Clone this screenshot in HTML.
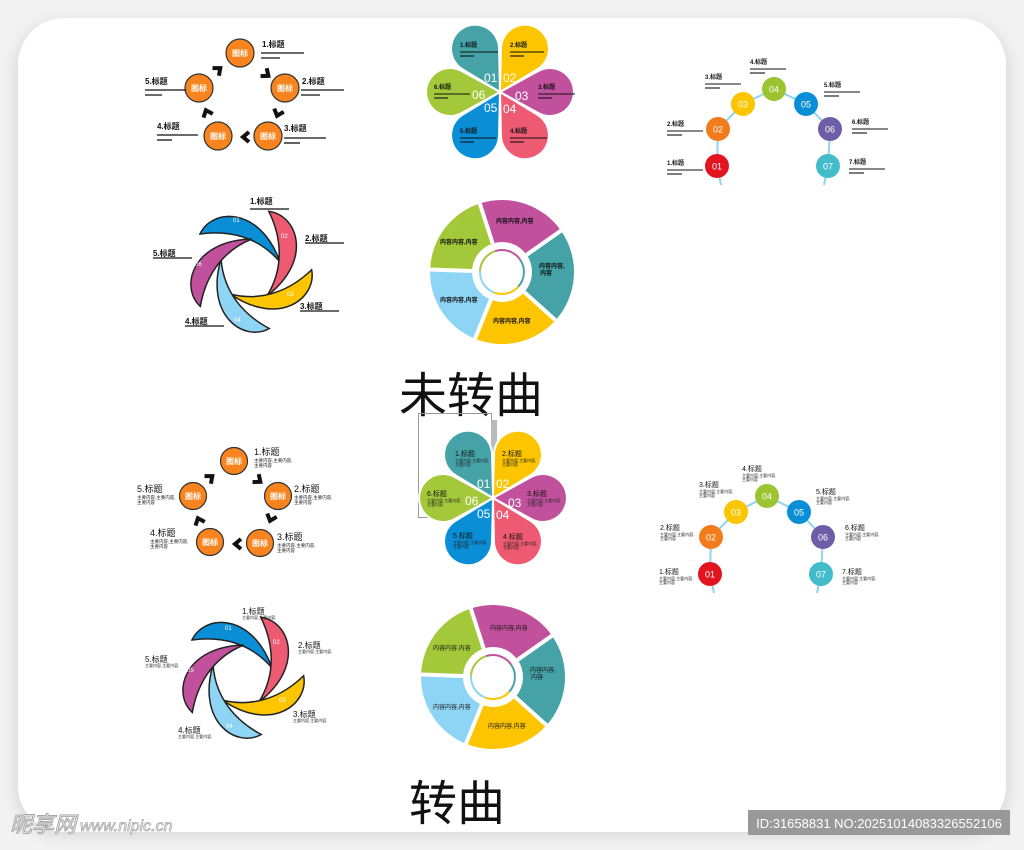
<!DOCTYPE html>
<html><head><meta charset="utf-8"><style>
html,body{margin:0;padding:0;background:#f2f2f2;width:1024px;height:850px;overflow:hidden}
svg{display:block}
text{font-family:"Liberation Sans","Noto Sans CJK SC",sans-serif}
</style></head><body>
<svg width="1024" height="850" viewBox="0 0 1024 850" xmlns="http://www.w3.org/2000/svg">
<defs>
<filter id="sh" x="-5%" y="-5%" width="110%" height="110%"><feGaussianBlur stdDeviation="6"/></filter>
<path id="petal" d="M0,0 L38.5,-21.1 A24,24 0 1 1 38.5,21.1 Z" stroke="#fff" stroke-width="2"/>
<path id="blade" d="M-50,-36 C-38,-62 10,-64 30,-8 C8,-34 -22,-40 -50,-36 Z" stroke="#222" stroke-width="1.5"/>
<path id="chev" d="M3,-5 L-3,0 L3,5" fill="none" stroke="#111" stroke-width="4"/>
<g id="pie">
<path d="M-22.2,-68.5 A72,72 0 0 1 59,-41.3 L24.6,-17.2 A30,30 0 0 0 -9.3,-28.5 Z" fill="#c2519d"/>
<path d="M59,-41.3 A72,72 0 0 1 53.5,48.2 L22.3,20.1 A30,30 0 0 0 24.6,-17.2 Z" fill="#45a3a8"/>
<path d="M53.5,48.2 A72,72 0 0 1 -27,66.8 L-11.2,27.8 A30,30 0 0 0 22.3,20.1 Z" fill="#fcc500"/>
<path d="M-27,66.8 A72,72 0 0 1 -71.9,-2.5 L-30,-1 A30,30 0 0 0 -11.2,27.8 Z" fill="#8ed4f5"/>
<path d="M-71.9,-2.5 A72,72 0 0 1 -22.2,-68.5 L-9.3,-28.5 A30,30 0 0 0 -30,-1 Z" fill="#a3c83a"/>
<g stroke="#fff" stroke-width="4"><line x1="-22.2" y1="-68.5" x2="-9.3" y2="-28.5"/><line x1="59" y1="-41.3" x2="24.6" y2="-17.2"/><line x1="53.5" y1="48.2" x2="22.3" y2="20.1"/><line x1="-27" y1="66.8" x2="-11.2" y2="27.8"/><line x1="-71.9" y1="-2.5" x2="-30" y2="-1"/></g>
<g fill="none" stroke-width="2">
<path d="M-6.8,-20.9 A22,22 0 0 1 18,-12.6" stroke="#c2519d"/>
<path d="M18,-12.6 A22,22 0 0 1 16.3,14.7" stroke="#45a3a8"/>
<path d="M16.3,14.7 A22,22 0 0 1 -8.3,20.4" stroke="#fcc500"/>
<path d="M-8.3,20.4 A22,22 0 0 1 -22,-0.8" stroke="#8ed4f5"/>
<path d="M-22,-0.8 A22,22 0 0 1 -6.8,-20.9" stroke="#a3c83a"/>
</g>
</g>
</defs>
<rect x="14" y="20" width="996" height="818" rx="48" fill="#ddd" filter="url(#sh)"/>
<rect x="18" y="18" width="988" height="814" rx="46" fill="#fff"/>

<!-- ===== TOP CYCLE ===== -->
<g fill="#f7841e" stroke="#333" stroke-width="1.2">
<circle cx="240" cy="53" r="14"/><circle cx="285" cy="88" r="14"/><circle cx="268" cy="136" r="14"/><circle cx="218" cy="136" r="14"/><circle cx="199" cy="88" r="14"/></g>
<g fill="#fff" font-size="8" font-weight="bold" text-anchor="middle">
<text x="240" y="56">图标</text><text x="285" y="91">图标</text><text x="268" y="139">图标</text><text x="218" y="139">图标</text><text x="199" y="91">图标</text></g>
<use href="#chev" transform="translate(266,74) rotate(-142)"/>
<use href="#chev" transform="translate(278,113) rotate(-71)"/>
<use href="#chev" transform="translate(246,137)"/>
<use href="#chev" transform="translate(207,113) rotate(68)"/>
<use href="#chev" transform="translate(218,70) rotate(140)"/>
<g font-size="8" font-weight="bold" fill="#111">
<text x="262" y="47">1.标题</text><text x="302" y="84">2.标题</text><text x="284" y="131">3.标题</text><text x="157" y="129">4.标题</text><text x="145" y="84">5.标题</text></g>
<g stroke="#111" stroke-width="1.3">
<line x1="261" y1="53" x2="304" y2="53"/><line x1="261" y1="58" x2="280" y2="58"/>
<line x1="301" y1="90" x2="344" y2="90"/><line x1="301" y1="95" x2="320" y2="95"/>
<line x1="284" y1="138" x2="326" y2="138"/><line x1="284" y1="143" x2="300" y2="143"/>
<line x1="157" y1="135" x2="198" y2="135"/><line x1="157" y1="140" x2="172" y2="140"/>
<line x1="145" y1="90" x2="186" y2="90"/><line x1="145" y1="95" x2="162" y2="95"/></g>

<!-- ===== TOP FLOWER ===== -->
<g transform="translate(500,92)">
<use href="#petal" fill="#45a3a8" transform="rotate(-120)"/>
<use href="#petal" fill="#fcc500" transform="rotate(-60)"/>
<use href="#petal" fill="#c2519d" transform="rotate(0)"/>
<use href="#petal" fill="#ef5a73" transform="rotate(60)"/>
<use href="#petal" fill="#0a8fd6" transform="rotate(120)"/>
<use href="#petal" fill="#a3c83a" transform="rotate(180)"/>
<g fill="#fff" font-size="12"><text x="-16" y="-10">01</text><text x="3" y="-10">02</text><text x="15" y="8">03</text><text x="3" y="21">04</text><text x="-16" y="20">05</text><text x="-28" y="7">06</text></g>
<g font-size="6" font-weight="bold" fill="#111"><text x="-40" y="-45">1.标题</text><text x="10" y="-45">2.标题</text><text x="38" y="-3">3.标题</text><text x="10" y="41">4.标题</text><text x="-40" y="41">5.标题</text><text x="-66" y="-3">6.标题</text></g>
<g stroke="#111" stroke-width="1.1">
<line x1="-40" y1="-40" x2="-2" y2="-40"/><line x1="-40" y1="-36" x2="-26" y2="-36"/>
<line x1="10" y1="-40" x2="44" y2="-40"/><line x1="10" y1="-36" x2="24" y2="-36"/>
<line x1="38" y1="2" x2="75" y2="2"/><line x1="38" y1="6" x2="52" y2="6"/>
<line x1="10" y1="46" x2="47" y2="46"/><line x1="10" y1="50" x2="24" y2="50"/>
<line x1="-40" y1="46" x2="-4" y2="46"/><line x1="-40" y1="50" x2="-26" y2="50"/>
<line x1="-66" y1="2" x2="-30" y2="2"/><line x1="-66" y1="6" x2="-52" y2="6"/></g>
</g>

<!-- ===== TOP CHAIN ===== -->
<polyline points="721,185 717,166 718,129 743,104 774,89 806,104 830,129 828,166 824,185" fill="none" stroke="#8fd3ef" stroke-width="2"/>
<g font-size="9" fill="#fff" text-anchor="middle">
<circle cx="717" cy="166" r="12" fill="#e2141f"/><text x="717" y="169.5">01</text>
<circle cx="718" cy="129" r="12" fill="#f27b1c"/><text x="718" y="132.5">02</text>
<circle cx="743" cy="104" r="12" fill="#fcc500"/><text x="743" y="107.5">03</text>
<circle cx="774" cy="89" r="12" fill="#9bc430"/><text x="774" y="92.5">04</text>
<circle cx="806" cy="104" r="12" fill="#0a8fd6"/><text x="806" y="107.5">05</text>
<circle cx="830" cy="129" r="12" fill="#6e5ea8"/><text x="830" y="132.5">06</text>
<circle cx="828" cy="166" r="12" fill="#43bcc9"/><text x="828" y="169.5">07</text></g>
<g font-size="6" font-weight="bold" fill="#111">
<text x="667" y="165">1.标题</text><text x="667" y="126">2.标题</text><text x="705" y="79">3.标题</text><text x="750" y="64">4.标题</text><text x="824" y="87">5.标题</text><text x="852" y="124">6.标题</text><text x="849" y="164">7.标题</text></g>
<g stroke="#111" stroke-width="1.1">
<line x1="667" y1="170" x2="703" y2="170"/><line x1="667" y1="174" x2="682" y2="174"/>
<line x1="667" y1="131" x2="703" y2="131"/><line x1="667" y1="135" x2="682" y2="135"/>
<line x1="705" y1="84" x2="741" y2="84"/><line x1="705" y1="88" x2="720" y2="88"/>
<line x1="750" y1="69" x2="786" y2="69"/><line x1="750" y1="73" x2="765" y2="73"/>
<line x1="824" y1="92" x2="860" y2="92"/><line x1="824" y1="96" x2="839" y2="96"/>
<line x1="852" y1="129" x2="888" y2="129"/><line x1="852" y1="133" x2="867" y2="133"/>
<line x1="849" y1="169" x2="885" y2="169"/><line x1="849" y1="173" x2="864" y2="173"/></g>

<!-- ===== TOP SWIRL ===== -->
<g transform="translate(250,270)">
<use href="#blade" fill="#0a8fd6"/>
<use href="#blade" fill="#ef5a73" transform="rotate(72)"/>
<use href="#blade" fill="#fcc500" transform="rotate(144)"/>
<use href="#blade" fill="#8ed4f5" transform="rotate(216)"/>
<use href="#blade" fill="#c2519d" transform="rotate(288)"/>
<g fill="#fff" font-size="6"><text x="-17" y="-48">01</text><text x="31" y="-32">02</text><text x="37" y="26">03</text><text x="-16" y="52">04</text><text x="-55" y="-4">06</text></g>
</g>
<g font-size="8" font-weight="bold" fill="#111">
<text x="250" y="204">1.标题</text><text x="305" y="241">2.标题</text><text x="300" y="309">3.标题</text><text x="185" y="324">4.标题</text><text x="153" y="256">5.标题</text></g>
<g stroke="#111" stroke-width="1.2">
<line x1="250" y1="209" x2="289" y2="209"/><line x1="305" y1="243" x2="344" y2="243"/><line x1="300" y1="311" x2="339" y2="311"/><line x1="185" y1="326" x2="224" y2="326"/><line x1="153" y1="258" x2="192" y2="258"/></g>

<!-- ===== TOP PIE ===== -->
<use href="#pie" transform="translate(502,272)"/>
<g font-size="6" font-weight="bold" fill="#111">
<text x="496" y="223">内容内容,内容</text><text x="440" y="244">内容内容,内容</text><text x="539" y="268">内容内容,</text><text x="540" y="275">内容</text><text x="440" y="302">内容内容,内容</text><text x="493" y="323">内容内容,内容</text></g>

<!-- ===== TITLE ===== -->
<text x="471" y="412" font-size="48" text-anchor="middle" fill="#111">未转曲</text>
<rect x="418.5" y="413.5" width="73" height="104" fill="none" stroke="#999" stroke-width="1"/>
<rect x="491" y="420" width="6" height="50" fill="#bbb"/>

<!-- ===== BOTTOM CYCLE ===== -->
<g fill="#f7841e" stroke="#333" stroke-width="1.2">
<circle cx="234" cy="461" r="13.5"/><circle cx="278" cy="496" r="13.5"/><circle cx="260" cy="543" r="13.5"/><circle cx="210" cy="542" r="13.5"/><circle cx="193" cy="496" r="13.5"/></g>
<g fill="#fff" font-size="8" font-weight="bold" text-anchor="middle">
<text x="234" y="464">图标</text><text x="278" y="499">图标</text><text x="260" y="546">图标</text><text x="210" y="545">图标</text><text x="193" y="499">图标</text></g>
<use href="#chev" transform="translate(258,480) rotate(-142)"/>
<use href="#chev" transform="translate(271,518) rotate(-71)"/>
<use href="#chev" transform="translate(238,544)"/>
<use href="#chev" transform="translate(199,521) rotate(68)"/>
<use href="#chev" transform="translate(210,478) rotate(140)"/>
<g font-size="9" fill="#111">
<text x="254" y="455">1.标题</text><text x="294" y="492">2.标题</text><text x="277" y="540">3.标题</text><text x="150" y="536">4.标题</text><text x="137" y="492">5.标题</text></g>
<g font-size="4.5" fill="#222">
<text x="254" y="462">主要内容,主要内容,</text><text x="254" y="467">主要内容</text>
<text x="294" y="499">主要内容,主要内容,</text><text x="294" y="504">主要内容</text>
<text x="277" y="547">主要内容,主要内容,</text><text x="277" y="552">主要内容</text>
<text x="150" y="543">主要内容,主要内容,</text><text x="150" y="548">主要内容</text>
<text x="137" y="499">主要内容,主要内容,</text><text x="137" y="504">主要内容</text></g>

<!-- ===== BOTTOM FLOWER ===== -->
<g transform="translate(493,498)">
<use href="#petal" fill="#45a3a8" transform="rotate(-120)"/>
<use href="#petal" fill="#fcc500" transform="rotate(-60)"/>
<use href="#petal" fill="#c2519d" transform="rotate(0)"/>
<use href="#petal" fill="#ef5a73" transform="rotate(60)"/>
<use href="#petal" fill="#0a8fd6" transform="rotate(120)"/>
<use href="#petal" fill="#a3c83a" transform="rotate(180)"/>
<g fill="#fff" font-size="12"><text x="-16" y="-10">01</text><text x="3" y="-10">02</text><text x="15" y="9">03</text><text x="3" y="21">04</text><text x="-16" y="20">05</text><text x="-28" y="7">06</text></g>
<g font-size="7" fill="#111"><text x="-38" y="-42">1.标题</text><text x="9" y="-42">2.标题</text><text x="34" y="-2">3.标题</text><text x="10" y="41">4.标题</text><text x="-40" y="40">5.标题</text><text x="-66" y="-2">6.标题</text></g>
<g font-size="4" fill="#222">
<text x="-38" y="-36">主要内容,主要内容,</text><text x="-38" y="-32">主要内容</text>
<text x="9" y="-36">主要内容,主要内容,</text><text x="9" y="-32">主要内容</text>
<text x="34" y="4">主要内容,主要内容,</text><text x="34" y="8">主要内容</text>
<text x="10" y="47">主要内容,主要内容,</text><text x="10" y="51">主要内容</text>
<text x="-40" y="46">主要内容,主要内容,</text><text x="-40" y="50">主要内容</text>
<text x="-66" y="4">主要内容,主要内容,</text><text x="-66" y="8">主要内容</text></g>
</g>

<!-- ===== BOTTOM CHAIN ===== -->
<polyline points="714,593 710,574 711,537 736,512 767,496 799,512 823,537 821,574 817,593" fill="none" stroke="#8fd3ef" stroke-width="2"/>
<g font-size="9" fill="#fff" text-anchor="middle">
<circle cx="710" cy="574" r="12" fill="#e2141f"/><text x="710" y="577.5">01</text>
<circle cx="711" cy="537" r="12" fill="#f27b1c"/><text x="711" y="540.5">02</text>
<circle cx="736" cy="512" r="12" fill="#fcc500"/><text x="736" y="515.5">03</text>
<circle cx="767" cy="496" r="12" fill="#9bc430"/><text x="767" y="499.5">04</text>
<circle cx="799" cy="512" r="12" fill="#0a8fd6"/><text x="799" y="515.5">05</text>
<circle cx="823" cy="537" r="12" fill="#6e5ea8"/><text x="823" y="540.5">06</text>
<circle cx="821" cy="574" r="12" fill="#43bcc9"/><text x="821" y="577.5">07</text></g>
<g font-size="7" fill="#111">
<text x="659" y="574">1.标题</text><text x="660" y="530">2.标题</text><text x="699" y="487">3.标题</text><text x="742" y="471">4.标题</text><text x="816" y="494">5.标题</text><text x="845" y="530">6.标题</text><text x="842" y="574">7.标题</text></g>
<g font-size="4" fill="#222">
<text x="659" y="580">主要内容,主要内容,</text><text x="659" y="584">主要内容</text>
<text x="660" y="536">主要内容,主要内容,</text><text x="660" y="540">主要内容</text>
<text x="699" y="493">主要内容,主要内容,</text><text x="699" y="497">主要内容</text>
<text x="742" y="477">主要内容,主要内容,</text><text x="742" y="481">主要内容</text>
<text x="816" y="500">主要内容,主要内容,</text><text x="816" y="504">主要内容</text>
<text x="845" y="536">主要内容,主要内容,</text><text x="845" y="540">主要内容</text>
<text x="842" y="580">主要内容,主要内容,</text><text x="842" y="584">主要内容</text></g>

<!-- ===== BOTTOM SWIRL ===== -->
<g transform="translate(242,676)">
<use href="#blade" fill="#0a8fd6"/>
<use href="#blade" fill="#ef5a73" transform="rotate(72)"/>
<use href="#blade" fill="#fcc500" transform="rotate(144)"/>
<use href="#blade" fill="#8ed4f5" transform="rotate(216)"/>
<use href="#blade" fill="#c2519d" transform="rotate(288)"/>
<g fill="#fff" font-size="6"><text x="-17" y="-46">01</text><text x="31" y="-32">02</text><text x="37" y="26">03</text><text x="-16" y="52">04</text><text x="-55" y="-4">05</text></g>
</g>
<g font-size="8" fill="#111">
<text x="242" y="614">1.标题</text><text x="298" y="648">2.标题</text><text x="293" y="717">3.标题</text><text x="178" y="733">4.标题</text><text x="145" y="662">5.标题</text></g>
<g font-size="4" fill="#222">
<text x="242" y="619">主要内容,主要内容,</text><text x="298" y="653">主要内容,主要内容,</text><text x="293" y="722">主要内容,主要内容,</text><text x="178" y="738">主要内容,主要内容,</text><text x="145" y="667">主要内容,主要内容,</text></g>

<!-- ===== BOTTOM PIE ===== -->
<use href="#pie" transform="translate(493,677)"/>
<g font-size="6" fill="#111">
<text x="490" y="630">内容内容,内容</text><text x="433" y="650">内容内容,内容</text><text x="530" y="672">内容内容,</text><text x="531" y="679">内容</text><text x="433" y="709">内容内容,内容</text><text x="488" y="728">内容内容,内容</text></g>

<text x="457" y="820" font-size="48" text-anchor="middle" fill="#111">转曲</text>

<!-- watermark -->
<text x="10" y="832" font-size="22" font-style="italic" fill="#fff" stroke="#aaa" stroke-width="1">昵享网</text>
<text x="80" y="831" font-size="16" font-style="italic" fill="#fff" stroke="#aaa" stroke-width="0.8">www.nipic.cn</text>
<rect x="748" y="810" width="262" height="25" fill="#999"/>
<text x="879" y="828" font-size="13" fill="#fff" text-anchor="middle">ID:31658831 NO:20251014083326552106</text>
</svg>
</body></html>
